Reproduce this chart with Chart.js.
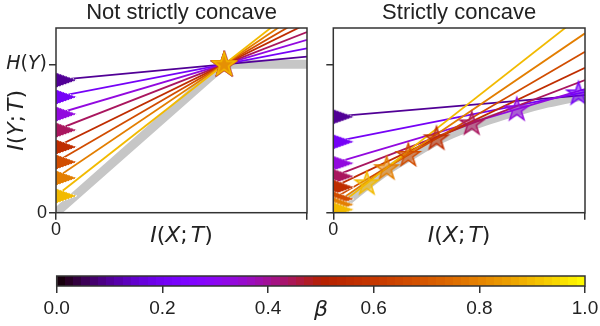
<!DOCTYPE html>
<html>
<head>
<meta charset="utf-8">
<script src="https://cdn.jsdelivr.net/npm/chart.js@4.4.0/dist/chart.umd.min.js"></script>
<style>
  body { margin: 0; background: #fff; }
  #wrap { position: relative; width: 600px; height: 326px; overflow: hidden; }
  canvas { position: absolute; }
</style>
</head>
<body>
<div id="wrap">
  <canvas id="left" width="320" height="250" style="left:0;top:0"></canvas>
  <canvas id="right" width="280" height="250" style="left:320px;top:0"></canvas>
  <canvas id="bar" width="600" height="76" style="left:0;top:250px"></canvas>
</div>
<script>
// beta values of the lines (colour = gnuplot colormap)
const beta = [0.1, 0.21, 0.33, 0.44, 0.56, 0.67, 0.79, 0.9];

// left panel: every line goes through the same kink
const leftStart = [0.894, 0.780, 0.665, 0.557, 0.443, 0.342, 0.234, 0.113];
const leftEnd   = [1.052, 1.108, 1.165, 1.218, 1.274, 1.324, 1.378, 1.437];
const leftStarX = [0.67, 0.67, 0.67, 0.67, 0.67, 0.67, 0.67, 0.67];
const leftStarY = [1, 1, 1, 1, 1, 1, 1, 1];
const leftCurveX = [0, 0.67, 1];
const leftCurveY = [0, 1, 1];

// right panel: lines tangent to a concave curve
const rightStart = [0.647, 0.478, 0.333, 0.245, 0.172, 0.094, 0.055, 0.021];
const rightEnd   = [0.793, 0.813, 0.833, 0.894, 0.977, 1.085, 1.209, 1.35];
const rightStarX = [null, 0.974, 0.729, 0.55, 0.41, 0.298, 0.212, 0.133];
const rightStarY = [null, 0.804, 0.697, 0.602, 0.501, 0.389, 0.300, 0.198];
const rightCurveX = [0, 0.05, 0.133, 0.212, 0.298, 0.41, 0.55, 0.729, 0.85, 1];
const rightCurveY = [0, 0.07, 0.183, 0.283, 0.373, 0.483, 0.585, 0.683, 0.738, 0.79];

const yMax = 1.245;
const cbSteps = 64;

Chart.defaults.font.family = '"Liberation Sans", Arial, sans-serif';
Chart.defaults.color = '#222';

function gnuplot(t, a) {
  const r = Math.sqrt(t), g = t * t * t, b = Math.max(0, Math.sin(2 * Math.PI * t));
  return `rgba(${Math.round(r * 255)},${Math.round(g * 255)},${Math.round(b * 255)},${a === undefined ? 1 : a})`;
}

// marker '>' : only the right half shows at x = 0
function triangle(color) {
  const c = document.createElement('canvas');
  c.width = 42; c.height = 30;
  const x = c.getContext('2d');
  x.beginPath();
  x.moveTo(42, 15); x.lineTo(0, 0); x.lineTo(0, 30); x.closePath();
  x.fillStyle = color; x.fill();
  x.strokeStyle = '#fff'; x.lineWidth = 1; x.setLineDash([1.5, 1.5]); x.stroke();
  return c;
}

function star(color) {
  const c = document.createElement('canvas');
  c.width = 30; c.height = 30;
  const x = c.getContext('2d');
  x.beginPath();
  for (let k = 0; k < 10; k++) {
    const r = k % 2 ? 4.7 : 12.2;
    const a = -Math.PI / 2 + k * Math.PI / 5;
    x.lineTo(15 + r * Math.cos(a), 15.5 + r * Math.sin(a));
  }
  x.closePath();
  x.fillStyle = color.replace(',1)', ',0.55)'); x.fill();
  x.strokeStyle = color; x.lineWidth = 1.5; x.stroke();
  return c;
}

function mathText(ctx, parts, x, y, size, align) {
  const fonts = parts.map(p => (p[1] ? 'italic ' : '') + size + 'px "DejaVu Sans"');
  let w = 0;
  parts.forEach((p, i) => { ctx.font = fonts[i]; w += ctx.measureText(p[0]).width + (p[2] || 0); });
  let cx = align === 'right' ? x - w : align === 'center' ? x - w / 2 : x;
  ctx.textBaseline = 'middle';
  ctx.textAlign = 'left';
  parts.forEach((p, i) => {
    ctx.font = fonts[i];
    ctx.fillText(p[0], cx, y);
    cx += ctx.measureText(p[0]).width + (p[2] || 0);
  });
}

const ixt = [['I', 1], ['(', 0], ['X', 1], [';', 0, 3], ['T', 1], [')', 0]];
const iyt = [['I', 1], ['(', 0], ['Y', 1], [';', 0, 3], ['T', 1], [')', 0]];
const hy = [['H', 1], ['(', 0], ['Y', 1], [')', 0]];

function framePlugin(extra) {
  return {
    id: 'frame',
    afterDraw(chart) {
      const { ctx, chartArea: a } = chart;
      ctx.save();
      ctx.strokeStyle = '#333';
      ctx.lineWidth = 1.5;
      ctx.strokeRect(a.left, a.top, a.right - a.left, a.bottom - a.top);
      ctx.fillStyle = '#222';
      if (extra) extra(chart, ctx, a);
      ctx.restore();
    }
  };
}

function noPad(s) {
  s.paddingLeft = 0; s.paddingRight = 0; s.paddingTop = 0; s.paddingBottom = 0;
}

function panelSets(starts, ends, starX, starY, curveX, curveY, smooth) {
  const sets = [];
  sets.push({
    data: curveX.map((x, i) => ({ x: x, y: curveY[i] })),
    showLine: true, borderColor: '#c6c6c6', borderWidth: 9, pointRadius: 0,
    cubicInterpolationMode: smooth ? 'monotone' : 'default', tension: 0,
    order: 300, clip: 0
  });
  beta.forEach((b, i) => {
    sets.push({
      data: [{ x: 0, y: starts[i] }, { x: 1, y: ends[i] }],
      showLine: true, borderColor: gnuplot(b), borderWidth: 1.8, pointRadius: 0,
      order: 200 - i, clip: 0
    });
  });
  sets.push({
    data: starts.map(y => ({ x: 0, y: y })),
    pointStyle: beta.map(b => triangle(gnuplot(b))),
    pointRadius: 12, order: 50, clip: 0
  });
  const idx = beta.map((b, i) => i).filter(i => starX[i] !== null);
  sets.push({
    data: idx.map(i => ({ x: starX[i], y: starY[i] })),
    pointStyle: idx.map(i => star(gnuplot(beta[i]))),
    pointRadius: 12, order: 10, clip: 0
  });
  return sets;
}

function panel(id, title, sets, yWidth, padRight, yLabel, extra) {
  return new Chart(document.getElementById(id), {
    type: 'scatter',
    data: { datasets: sets },
    options: {
      responsive: false,
      animation: false,
      events: [],
      layout: { padding: { left: 0, right: padRight, top: 0, bottom: 0 } },
      plugins: {
        legend: { display: false },
        tooltip: { enabled: false },
        title: {
          display: true, text: title, fullSize: false, color: '#222',
          font: { size: 22, weight: 'normal' }, padding: { top: 0, bottom: 1.6 }
        }
      },
      scales: {
        x: {
          type: 'linear', min: 0, max: 1,
          afterBuildTicks: s => { s.ticks = [{ value: 0 }, { value: 1 }]; },
          afterFit: s => { s.height = 37.3; noPad(s); },
          border: { display: false },
          grid: { drawOnChartArea: false, tickLength: 7, color: '#333', lineWidth: 1.5 },
          ticks: { callback: v => v === 0 ? '0' : '', font: { size: 18 }, padding: 0, maxRotation: 0 }
        },
        y: {
          type: 'linear', min: 0, max: yMax,
          afterBuildTicks: s => { s.ticks = [{ value: 0 }, { value: 1 }]; },
          afterFit: s => { s.width = yWidth; noPad(s); },
          border: { display: false },
          grid: { drawOnChartArea: false, tickLength: 7, color: '#333', lineWidth: 1.5 },
          ticks: { callback: v => (v === 0 && yLabel) ? '0' : '', font: { size: 18 }, padding: 2 }
        }
      }
    },
    plugins: [framePlugin(extra)]
  });
}

panel('left', 'Not strictly concave',
  panelSets(leftStart, leftEnd, leftStarX, leftStarY, leftCurveX, leftCurveY, false),
  56, 13, true,
  (chart, ctx, a) => {
    mathText(ctx, hy, 47, chart.scales.y.getPixelForValue(1), 19, 'right');
    mathText(ctx, ixt, (a.left + a.right) / 2, 236, 22, 'center');
    ctx.translate(17, (a.top + a.bottom) / 2);
    ctx.rotate(-Math.PI / 2);
    mathText(ctx, iyt, 0, 0, 22, 'center');
  });

panel('right', 'Strictly concave',
  panelSets(rightStart, rightEnd, rightStarX, rightStarY, rightCurveX, rightCurveY, true),
  13.3, 15, false,
  (chart, ctx, a) => {
    mathText(ctx, ixt, (a.left + a.right) / 2, 236, 22, 'center');
  });

// colorbar
new Chart(document.getElementById('bar'), {
  type: 'bar',
  data: {
    labels: [''],
    datasets: [{
      data: [[0, 1]],
      barPercentage: 1, categoryPercentage: 1, borderWidth: 0,
      backgroundColor: c => {
        const ch = c.chart;
        if (!ch.chartArea) return 'transparent';
        const x0 = ch.scales.x.getPixelForValue(0), x1 = ch.scales.x.getPixelForValue(1);
        const g = ch.ctx.createLinearGradient(x0, 0, x1, 0);
        for (let k = 0; k < cbSteps; k++) {
          const col = gnuplot((k + 0.5) / cbSteps);
          g.addColorStop(k / cbSteps, col);
          g.addColorStop((k + 1) / cbSteps, col);
        }
        return g;
      }
    }]
  },
  options: {
    indexAxis: 'y',
    responsive: false,
    animation: false,
    events: [],
    layout: { padding: { left: 56.7, right: 15, top: 26, bottom: 0 } },
    plugins: { legend: { display: false }, tooltip: { enabled: false } },
    scales: {
      x: {
        type: 'linear', min: 0, max: 1,
        afterFit: s => { s.height = 40; noPad(s); },
        border: { display: false },
        grid: { drawOnChartArea: false, tickLength: 7, color: '#333', lineWidth: 1.5 },
        ticks: { stepSize: 0.2, callback: v => v.toFixed(1), font: { size: 19 }, padding: 4, maxRotation: 0 }
      },
      y: { display: false }
    }
  },
  plugins: [framePlugin((chart, ctx, a) => {
    mathText(ctx, [['β', 1]], 321, 60, 22, 'center');
  })]
});
</script>
</body>
</html>
